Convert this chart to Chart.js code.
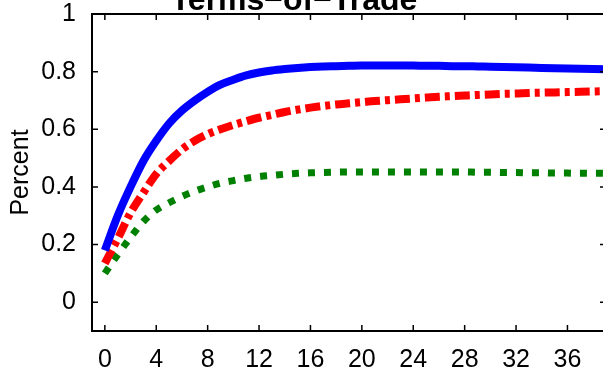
<!DOCTYPE html>
<html lang="en">
    <head>
        <meta charset="utf-8">
        <script src="https://cdn.jsdelivr.net/npm/chart.js"></script>
        <style>
            body { margin: 0; background: #fff; overflow: hidden; }
            #wrap { width: 603px; height: 368px; overflow: hidden; }
        </style>
    </head>
    <body>
        <div id="wrap"><canvas id="myChart" width="612" height="368"></canvas></div>
        <script>
            const titleText = "Terms\u2212of\u2212Trade"
            const yLabel = "Percent"
            const periods = [0, 1, 2, 3, 4, 5, 6, 7, 8, 9, 10, 11, 12, 13, 14, 15, 16, 17, 18, 19,
                20, 21, 22, 23, 24, 25, 26, 27, 28, 29, 30, 31, 32, 33, 34, 35, 36, 37, 38, 39]
            const blueSeries = [0.18, 0.30, 0.40, 0.49, 0.56, 0.62, 0.665, 0.70, 0.73, 0.755,
                0.772, 0.787, 0.797, 0.804, 0.809, 0.813, 0.816, 0.818, 0.819, 0.820,
                0.821, 0.821, 0.821, 0.821, 0.821, 0.820, 0.820, 0.819, 0.819, 0.818,
                0.817, 0.816, 0.815, 0.814, 0.813, 0.812, 0.811, 0.810, 0.809, 0.808]
            const redSeries = [0.135, 0.22, 0.31, 0.38, 0.445, 0.49, 0.53, 0.56, 0.583, 0.60,
                0.615, 0.628, 0.64, 0.65, 0.66, 0.668, 0.675, 0.681, 0.686, 0.69,
                0.694, 0.698, 0.701, 0.704, 0.707, 0.71, 0.713, 0.715, 0.717, 0.719,
                0.721, 0.723, 0.724, 0.726, 0.727, 0.728, 0.729, 0.730, 0.731, 0.732]
            const greenSeries = [0.10, 0.165, 0.225, 0.28, 0.32, 0.345, 0.367, 0.385, 0.40, 0.413,
                0.422, 0.43, 0.436, 0.44, 0.444, 0.447, 0.449, 0.45, 0.451, 0.452,
                0.452, 0.452, 0.452, 0.452, 0.452, 0.452, 0.452, 0.452, 0.452, 0.451,
                0.451, 0.450, 0.450, 0.449, 0.449, 0.448, 0.448, 0.447, 0.447, 0.447]
            const xTicks = [0, 4, 8, 12, 16, 20, 24, 28, 32, 36]
            const yTicks = [0, 0.2, 0.4, 0.6, 0.8, 1]

            const fontFamily = "'Liberation Sans', Arial, sans-serif"

            function toPoints(values) {
                return periods.map((p, i) => ({ x: p, y: values[i] }))
            }

            // box round the plot, ticks pointing inward, and the title
            const frame = {
                id: "frame",
                afterDraw(chart) {
                    const { ctx, chartArea: a, scales } = chart
                    ctx.save()
                    ctx.strokeStyle = "#000"
                    ctx.lineWidth = 2
                    ctx.strokeRect(a.left, a.top, a.right - a.left, a.bottom - a.top)
                    ctx.lineWidth = 1.5
                    ctx.beginPath()
                    xTicks.forEach((v) => {
                        const x = scales.x.getPixelForValue(v)
                        ctx.moveTo(x, a.bottom)
                        ctx.lineTo(x, a.bottom - 6)
                        ctx.moveTo(x, a.top)
                        ctx.lineTo(x, a.top + 6)
                    })
                    yTicks.forEach((v) => {
                        const y = scales.y.getPixelForValue(v)
                        ctx.moveTo(a.left, y)
                        ctx.lineTo(a.left + 6, y)
                        ctx.moveTo(a.right, y)
                        ctx.lineTo(a.right - 6, y)
                    })
                    ctx.stroke()
                    ctx.fillStyle = "#000"
                    ctx.font = "bold 32px " + fontFamily
                    ctx.textAlign = "center"
                    ctx.textBaseline = "alphabetic"
                    ctx.fillText(titleText, 294, 10)
                    ctx.restore()
                },
            }

            const ctx = document.getElementById("myChart")
            new Chart(ctx, {
                type: "line",
                data: {
                    datasets: [
                        {
                            data: toPoints(blueSeries),
                            borderColor: "#0000ff",
                            borderWidth: 8,
                            pointRadius: 0,
                            cubicInterpolationMode: "monotone",
                            borderJoinStyle: "round",
                        },
                        {
                            data: toPoints(redSeries),
                            borderColor: "#ff0000",
                            borderWidth: 8,
                            borderDash: [15, 5, 5, 5],
                            borderCapStyle: "butt",
                            pointRadius: 0,
                            cubicInterpolationMode: "monotone",
                        },
                        {
                            data: toPoints(greenSeries),
                            borderColor: "#008000",
                            borderWidth: 7,
                            borderDash: [7, 9],
                            borderCapStyle: "butt",
                            pointRadius: 0,
                            cubicInterpolationMode: "monotone",
                        },
                    ],
                },
                options: {
                    responsive: false,
                    animation: false,
                    layout: { padding: { top: 14, right: 6, left: 0, bottom: 0 } },
                    plugins: {
                        legend: { display: false },
                        tooltip: { enabled: false },
                    },
                    scales: {
                        x: {
                            type: "linear",
                            min: -1,
                            max: 39,
                            afterBuildTicks: (s) => {
                                s.ticks = xTicks.map((v) => ({ value: v }))
                            },
                            afterFit: (s) => {
                                s.height = 37
                                s.paddingLeft = 0
                                s.paddingRight = 0
                            },
                            grid: { display: false },
                            border: { display: false },
                            ticks: {
                                color: "#000",
                                padding: 6,
                                maxRotation: 0,
                                font: { size: 25, family: fontFamily },
                                callback: (v) => String(v),
                            },
                        },
                        y: {
                            min: -0.1,
                            max: 1,
                            afterBuildTicks: (s) => {
                                s.ticks = yTicks.map((v) => ({ value: v }))
                            },
                            afterFit: (s) => {
                                s.width = 92
                                s.paddingTop = 0
                                s.paddingBottom = 0
                            },
                            grid: { display: false },
                            border: { display: false },
                            ticks: {
                                color: "#000",
                                padding: 8,
                                font: { size: 25, family: fontFamily },
                                callback: (v) => String(+v.toFixed(1)),
                            },
                            title: {
                                display: true,
                                text: yLabel,
                                color: "#000",
                                padding: { top: 6, bottom: 0 },
                                font: { size: 25, family: fontFamily },
                            },
                        },
                    },
                },
                plugins: [frame],
            })
        </script>
    </body>
</html>
